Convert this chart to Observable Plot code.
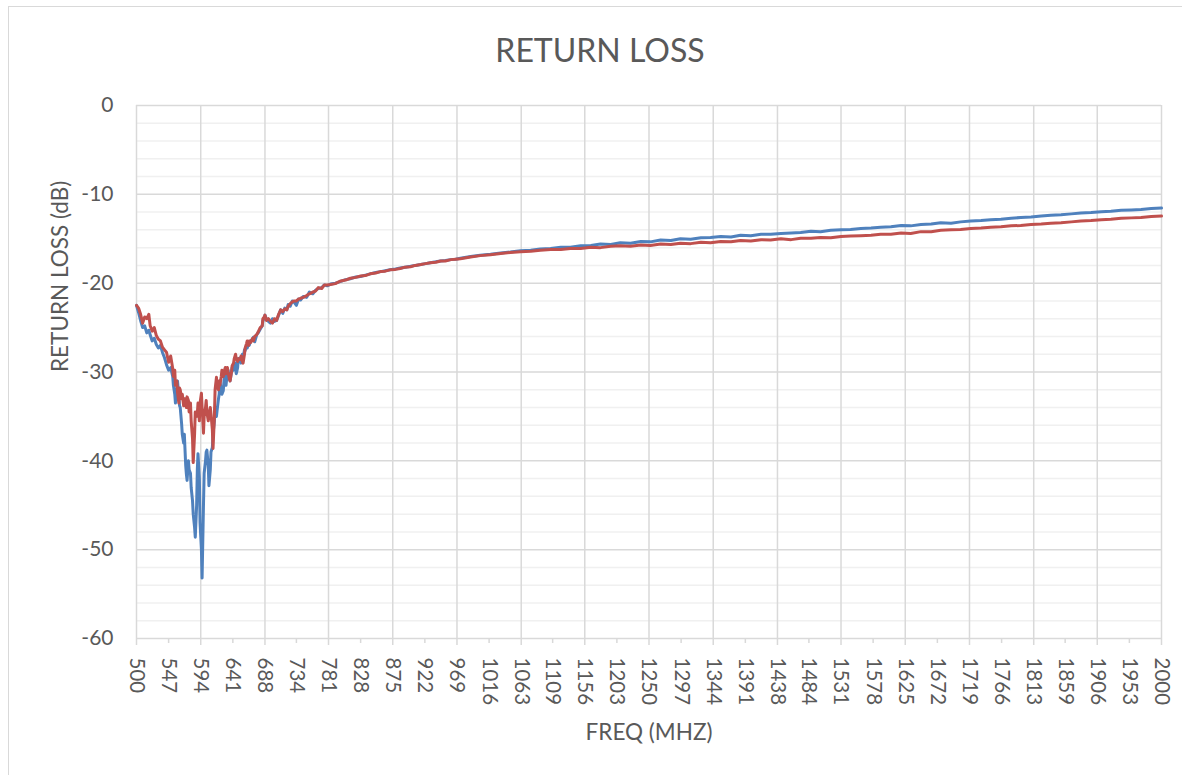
<!DOCTYPE html>
<html>
<head>
<meta charset="utf-8">
<script src="https://cdn.jsdelivr.net/npm/d3@7"></script>
<script src="https://cdn.jsdelivr.net/npm/@observablehq/plot@0.6"></script>
<style>
  html, body { margin: 0; padding: 0; background: #fff; }
  body { width: 1182px; height: 775px; position: relative; overflow: hidden; font-family: Lato, "Open Sans", sans-serif; }
  #frame { position: absolute; left: 8px; top: 6px; width: 1200px; height: 800px; border-left: 1.5px solid #d9d9d9; border-top: 1.5px solid #d9d9d9; }
  #title { position: absolute; left: 18px; width: 1164px; top: 30px; text-align: center; font-size: 32px; color: #595959; }
  #chart { position: absolute; left: 0; top: 85px; }
</style>
</head>
<body>
<div id="frame"></div>
<div id="title">RETURN LOSS</div>
<div id="chart"></div>
<script>
const chartTitle = "RETURN LOSS";
const xLabel = "FREQ (MHZ)";
const yLabel = "RETURN LOSS (dB)";

const freqMHz = [500,503,506,509,512,515,518,520,523,526,529,532,535,538,541,544,547,550,553,554,556,557,559,560,562,563,564,566,567,569,570,572,573,574,576,577,579,580,582,583,585,586,588,589,590,592,593,595,596,598,599,601,602,603,605,606,608,609,611,612,614,615,617,618,620,621,622,624,625,627,628,630,631,633,634,636,637,639,640,642,643,645,646,648,649,652,653,655,656,658,659,661,662,664,665,667,670,671,673,676,678,681,684,685,687,688,690,693,696,699,702,705,708,711,714,717,720,722,725,728,731,734,737,740,744,749,753,758,762,766,771,775,779,784,791,799,806,813,821,828,835,842,850,857,864,871,879,886,893,901,908,916,923,930,938,945,952,960,967,974,989,1003,1018,1033,1047,1062,1077,1091,1106,1121,1135,1150,1165,1179,1194,1208,1223,1238,1252,1267,1282,1296,1311,1326,1340,1355,1370,1384,1399,1414,1428,1443,1458,1472,1487,1501,1516,1531,1545,1560,1575,1589,1604,1619,1633,1648,1663,1677,1692,1706,1721,1736,1750,1765,1780,1794,1809,1824,1838,1853,1868,1882,1897,1912,1926,1941,1956,1970,1985,2000];

const lossBlue = [-22.5,-23.3,-24.2,-25.0,-24.8,-25.6,-25.3,-25.8,-26.5,-26.2,-26.9,-27.3,-27.0,-27.8,-28.4,-29.2,-29.8,-29.5,-30.5,-31.5,-32.5,-33.5,-32.0,-31.0,-32.8,-33.8,-34.0,-35.8,-37.0,-38.0,-37.0,-40.5,-41.5,-42.2,-40.0,-41.0,-41.4,-43.0,-44.5,-46.0,-47.5,-48.6,-45.0,-41.0,-39.2,-42.0,-47.0,-50.0,-53.2,-45.0,-41.4,-40.0,-39.0,-38.8,-40.5,-42.8,-41.0,-39.0,-38.5,-37.0,-35.5,-34.0,-35.0,-34.3,-33.0,-32.5,-31.0,-32.0,-32.5,-32.1,-31.0,-30.2,-31.5,-30.0,-29.8,-30.8,-31.0,-30.0,-29.5,-29.8,-29.0,-29.0,-30.2,-29.5,-28.5,-28.4,-29.0,-28.0,-28.5,-27.5,-27.6,-27.0,-27.3,-26.8,-27.0,-26.5,-26.3,-26.1,-26.6,-25.8,-25.6,-25.2,-24.8,-24.2,-24.0,-23.6,-24.0,-24.3,-24.5,-24.0,-24.3,-24.2,-23.6,-23.0,-23.4,-22.8,-23.0,-22.4,-22.6,-22.0,-22.2,-22.5,-21.8,-21.9,-21.5,-21.6,-21.0,-21.2,-20.8,-20.6,-20.5,-20.2,-20.3,-20.1,-20.0,-19.8,-19.6,-19.5,-19.3,-19.25,-19.1,-18.95,-18.8,-18.7,-18.6,-18.5,-18.4,-18.3,-18.2,-18.1,-18.0,-17.9,-17.8,-17.7,-17.6,-17.5,-17.45,-17.35,-17.3,-17.2,-17.0,-16.85,-16.75,-16.6,-16.5,-16.35,-16.3,-16.15,-16.1,-15.95,-15.95,-15.8,-15.75,-15.6,-15.65,-15.45,-15.5,-15.3,-15.35,-15.15,-15.2,-15.0,-15.05,-14.9,-14.85,-14.75,-14.8,-14.6,-14.65,-14.5,-14.5,-14.4,-14.35,-14.3,-14.15,-14.2,-14.05,-14.0,-13.95,-13.85,-13.8,-13.7,-13.65,-13.5,-13.55,-13.4,-13.35,-13.2,-13.25,-13.1,-13.0,-12.95,-12.85,-12.8,-12.7,-12.6,-12.55,-12.45,-12.35,-12.3,-12.2,-12.1,-12.05,-11.95,-11.9,-11.8,-11.75,-11.7,-11.6,-11.55];

const lossRed = [-22.5,-22.8,-23.5,-24.5,-23.8,-24.0,-23.5,-24.8,-25.4,-25.0,-25.9,-26.3,-26.5,-27.2,-27.5,-27.8,-28.9,-28.2,-29.6,-30.5,-29.8,-31.5,-31.0,-32.3,-33.5,-31.8,-32.0,-33.0,-32.5,-33.8,-33.0,-33.0,-34.0,-32.8,-33.2,-34.5,-33.5,-35.5,-37.5,-40.2,-37.0,-34.5,-35.0,-34.7,-33.5,-35.5,-33.5,-32.4,-34.0,-36.9,-35.0,-34.0,-33.2,-34.5,-35.5,-34.8,-34.0,-34.7,-36.5,-38.6,-35.0,-32.0,-30.6,-31.7,-32.0,-31.0,-31.5,-30.5,-29.8,-30.5,-30.0,-29.5,-30.2,-29.5,-30.0,-30.8,-31.0,-30.0,-29.3,-29.0,-28.5,-28.0,-28.5,-28.8,-28.5,-28.6,-28.2,-28.8,-29.0,-28.0,-27.3,-26.8,-26.5,-27.0,-26.5,-26.7,-26.2,-26.5,-26.0,-25.8,-25.5,-25.0,-24.8,-24.0,-23.8,-23.6,-24.2,-24.0,-24.3,-24.5,-24.0,-24.2,-23.5,-23.0,-23.2,-22.9,-23.0,-22.6,-22.3,-22.1,-22.0,-22.0,-21.8,-21.7,-21.6,-21.4,-21.2,-21.0,-20.9,-20.5,-20.6,-20.2,-20.2,-20.15,-20.05,-19.75,-19.65,-19.45,-19.35,-19.2,-19.15,-18.95,-18.85,-18.7,-18.65,-18.5,-18.45,-18.35,-18.2,-18.15,-18.0,-17.9,-17.8,-17.7,-17.65,-17.5,-17.5,-17.35,-17.3,-17.25,-17.05,-16.9,-16.8,-16.65,-16.55,-16.45,-16.4,-16.3,-16.2,-16.2,-16.1,-16.1,-15.95,-16.0,-15.85,-15.8,-15.85,-15.7,-15.75,-15.6,-15.65,-15.5,-15.55,-15.4,-15.45,-15.3,-15.35,-15.2,-15.25,-15.1,-15.15,-15.0,-15.1,-14.95,-14.95,-14.85,-14.9,-14.75,-14.7,-14.65,-14.6,-14.5,-14.5,-14.35,-14.4,-14.2,-14.2,-14.05,-14.0,-13.95,-13.85,-13.8,-13.7,-13.65,-13.55,-13.5,-13.4,-13.35,-13.25,-13.2,-13.1,-13.0,-12.95,-12.85,-12.8,-12.7,-12.65,-12.6,-12.5,-12.45];

const xTickLabels = [500,547,594,641,688,734,781,828,875,922,969,1016,1063,1109,1156,1203,1250,1297,1344,1391,1438,1484,1531,1578,1625,1672,1719,1766,1813,1859,1906,1953,2000];
const yTickLabels = [0,-10,-20,-30,-40,-50,-60];
const yMinorGrid = [-2,-4,-6,-8,-12,-14,-16,-18,-22,-24,-26,-28,-32,-34,-36,-38,-42,-44,-46,-48,-52,-54,-56,-58];

const rows = freqMHz.map((f, i) => ({freq: f, blue: lossBlue[i], red: lossRed[i]}));
const xGrid = xTickLabels.filter((d, i) => i % 2 === 0);
const xMinorTicks = xTickLabels.filter((d, i) => i % 2 === 1);

document.getElementById("title").textContent = chartTitle;

const chart = Plot.plot({
  width: 1182,
  height: 690,
  marginTop: 20,
  marginBottom: 137,
  marginLeft: 136,
  marginRight: 21,
  style: {fontFamily: "Lato, 'Open Sans', sans-serif", color: "#595959", background: "transparent", overflow: "visible"},
  x: {type: "linear", domain: [500, 2000], axis: null},
  y: {domain: [-60, 0], axis: null},
  marks: [
    Plot.ruleY(yMinorGrid, {stroke: "#f0f0f0", strokeWidth: 1.5}),
    Plot.ruleY(yTickLabels, {stroke: "#d9d9d9", strokeWidth: 1.5}),
    Plot.ruleX(xGrid, {stroke: "#d9d9d9", strokeWidth: 1.5, insetBottom: -7}),
    Plot.axisX({ticks: xMinorTicks, tickSize: 5, tickFormat: () => "", stroke: "#d9d9d9", strokeWidth: 1.5, label: null}),
    Plot.axisX({ticks: xTickLabels, tickSize: 0, tickPadding: 19, tickRotate: 90, tickFormat: d => String(d), fontSize: 20.5, fill: "#595959", label: null}),
    Plot.axisY({ticks: yTickLabels, tickSize: 0, tickPadding: 23, tickFormat: d => String(d), fontSize: 21, fill: "#595959", label: null}),
    Plot.line(rows, {x: "freq", y: "blue", stroke: "#4F81BD", strokeWidth: 3, strokeLinejoin: "round"}),
    Plot.line(rows, {x: "freq", y: "red", stroke: "#C0504D", strokeWidth: 3, strokeLinejoin: "round"}),
    Plot.text([xLabel], {frameAnchor: "bottom", dy: 101, fontSize: 22.5, fill: "#595959"}),
    Plot.text([yLabel], {frameAnchor: "left", dx: -76, rotate: -90, fontSize: 22.5, fill: "#595959"})
  ]
});
document.getElementById("chart").appendChild(chart);
</script>
</body>
</html>
